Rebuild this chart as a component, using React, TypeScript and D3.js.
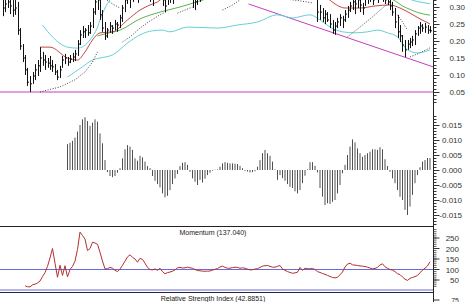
import React from 'react';
import * as d3 from 'd3';

const WIDTH = 467;
const HEIGHT = 302;
const PLOT_RIGHT = 433;

// ---- price bars (one per session) ----
const highs = [
  0.350, 0.335, 0.344, 0.329, 0.338, 0.327, 0.315, 0.238, 0.191, 0.159,
  0.121, 0.097, 0.109, 0.132, 0.144, 0.182, 0.168, 0.159, 0.150, 0.156,
  0.144, 0.132, 0.115, 0.127, 0.156, 0.162, 0.153, 0.159, 0.165, 0.174,
  0.203, 0.232, 0.244, 0.238, 0.247, 0.256, 0.297, 0.344, 0.350, 0.321,
  0.291, 0.256, 0.238, 0.256, 0.247, 0.262, 0.256, 0.277, 0.306, 0.335,
  0.365, 0.356, 0.374, 0.380, 0.368, 0.385, 0.394, 0.380, 0.391, 0.374,
  0.368, 0.385, 0.394, 0.380, 0.362, 0.350, 0.344, 0.356, 0.350, 0.394,
  0.405, 0.410, 0.402, 0.398, 0.395, 0.385, 0.365, 0.356, 0.362, 0.374,
  0.385, 0.390, 0.395, 0.400, 0.410, 0.405, 0.398, 0.390, 0.395, 0.400,
  0.410, 0.420, 0.425, 0.430, 0.420, 0.415, 0.410, 0.400, 0.395, 0.400,
  0.405, 0.410, 0.420, 0.430, 0.440, 0.445, 0.440, 0.435, 0.430, 0.420,
  0.410, 0.405, 0.400, 0.395, 0.390, 0.385, 0.380, 0.385, 0.390, 0.395,
  0.400, 0.405, 0.410, 0.405, 0.400, 0.390, 0.344, 0.306, 0.297, 0.291,
  0.285, 0.279, 0.262, 0.256, 0.268, 0.279, 0.274, 0.291, 0.303, 0.315,
  0.327, 0.321, 0.332, 0.321, 0.312, 0.332, 0.338, 0.344, 0.338, 0.350,
  0.344, 0.356, 0.350, 0.344, 0.338, 0.327, 0.315, 0.297, 0.277, 0.247,
  0.218, 0.203, 0.203, 0.209, 0.215, 0.232, 0.244, 0.256, 0.250, 0.253,
  0.247, 0.244,
];
const lows = [
  0.273, 0.285, 0.297, 0.279, 0.271, 0.277, 0.218, 0.174, 0.138, 0.100,
  0.068, 0.050, 0.074, 0.085, 0.097, 0.109, 0.127, 0.115, 0.121, 0.115,
  0.109, 0.100, 0.085, 0.091, 0.121, 0.132, 0.127, 0.135, 0.138, 0.141,
  0.156, 0.188, 0.209, 0.209, 0.215, 0.221, 0.238, 0.277, 0.291, 0.262,
  0.227, 0.203, 0.209, 0.224, 0.221, 0.232, 0.227, 0.238, 0.256, 0.285,
  0.309, 0.297, 0.315, 0.327, 0.312, 0.332, 0.335, 0.327, 0.338, 0.315,
  0.303, 0.329, 0.338, 0.327, 0.303, 0.285, 0.306, 0.312, 0.309, 0.335,
  0.345, 0.352, 0.348, 0.342, 0.338, 0.330, 0.297, 0.291, 0.306, 0.315,
  0.335, 0.340, 0.350, 0.355, 0.360, 0.355, 0.345, 0.340, 0.345, 0.350,
  0.355, 0.365, 0.370, 0.375, 0.370, 0.360, 0.355, 0.350, 0.345, 0.350,
  0.355, 0.360, 0.365, 0.375, 0.385, 0.390, 0.385, 0.380, 0.370, 0.365,
  0.355, 0.350, 0.345, 0.340, 0.335, 0.330, 0.330, 0.335, 0.340, 0.345,
  0.350, 0.355, 0.360, 0.355, 0.350, 0.335, 0.256, 0.262, 0.256, 0.250,
  0.256, 0.238, 0.221, 0.218, 0.238, 0.244, 0.238, 0.256, 0.268, 0.285,
  0.291, 0.279, 0.297, 0.285, 0.277, 0.303, 0.309, 0.315, 0.306, 0.321,
  0.312, 0.324, 0.315, 0.309, 0.306, 0.291, 0.274, 0.238, 0.209, 0.197,
  0.168, 0.153, 0.174, 0.179, 0.185, 0.188, 0.215, 0.221, 0.227, 0.224,
  0.221, 0.224,
];
const closes = [
  0.297, 0.309, 0.315, 0.303, 0.291, 0.297, 0.232, 0.185, 0.150, 0.115,
  0.079, 0.074, 0.097, 0.115, 0.127, 0.150, 0.144, 0.138, 0.135, 0.127,
  0.124, 0.109, 0.094, 0.115, 0.144, 0.150, 0.138, 0.147, 0.153, 0.162,
  0.191, 0.218, 0.227, 0.232, 0.224, 0.244, 0.285, 0.315, 0.321, 0.277,
  0.238, 0.215, 0.232, 0.244, 0.238, 0.250, 0.247, 0.268, 0.297, 0.321,
  0.338, 0.332, 0.350, 0.356, 0.344, 0.365, 0.374, 0.350, 0.368, 0.344,
  0.332, 0.362, 0.374, 0.350, 0.321, 0.303, 0.327, 0.332, 0.338, 0.380,
  0.390, 0.395, 0.385, 0.380, 0.372, 0.350, 0.332, 0.315, 0.338, 0.350,
  0.360, 0.375, 0.385, 0.390, 0.395, 0.385, 0.370, 0.365, 0.380, 0.390,
  0.400, 0.410, 0.415, 0.420, 0.405, 0.400, 0.390, 0.380, 0.375, 0.385,
  0.390, 0.400, 0.410, 0.420, 0.430, 0.435, 0.425, 0.420, 0.410, 0.400,
  0.390, 0.385, 0.380, 0.375, 0.370, 0.365, 0.360, 0.370, 0.375, 0.380,
  0.385, 0.390, 0.395, 0.385, 0.380, 0.360, 0.285, 0.285, 0.268, 0.279,
  0.262, 0.250, 0.232, 0.244, 0.256, 0.268, 0.262, 0.279, 0.291, 0.303,
  0.315, 0.309, 0.321, 0.306, 0.297, 0.324, 0.327, 0.332, 0.321, 0.332,
  0.327, 0.338, 0.332, 0.321, 0.315, 0.303, 0.285, 0.256, 0.227, 0.215,
  0.188, 0.174, 0.191, 0.197, 0.203, 0.221, 0.238, 0.244, 0.238, 0.241,
  0.232, 0.230,
];

// ---- overlays: [bar index, price] ----
const cyanUpper: [number, number][] = [
  [16, 0.247], [20, 0.212], [26, 0.182], [30, 0.179], [35, 0.203], [38, 0.241],
  [39, 0.262], [41, 0.297], [43, 0.321], [45, 0.338], [60, 0.39], [90, 0.43],
  [120, 0.46], [140, 0.44], [152, 0.39], [158, 0.345], [161, 0.329], [165, 0.318],
  [169, 0.312], [171, 0.31],
];
const cyanLower: [number, number][] = [
  [26, 0.094], [32, 0.124], [36, 0.144], [39, 0.15], [44, 0.159], [50, 0.194],
  [55, 0.218], [60, 0.23], [64, 0.232], [67, 0.227], [74, 0.241], [86, 0.238],
  [94, 0.247], [102, 0.256], [110, 0.277], [116, 0.268], [123, 0.277], [127, 0.262],
  [131, 0.241], [136, 0.227], [141, 0.224], [146, 0.227], [150, 0.232], [154, 0.224],
  [158, 0.212], [162, 0.174], [166, 0.165], [171, 0.174],
];
const redMA: [number, number][] = [
  [15, 0.182], [19, 0.182], [26, 0.15], [30, 0.144], [33, 0.168], [36, 0.203],
  [39, 0.224], [44, 0.227], [50, 0.262], [55, 0.291], [59, 0.306], [62, 0.315],
  [65, 0.332], [75, 0.36], [95, 0.38], [115, 0.39], [125, 0.36], [130, 0.326],
  [133, 0.309], [137, 0.297], [143, 0.297], [149, 0.303], [155, 0.306], [159, 0.297],
  [163, 0.282], [167, 0.265], [171, 0.25],
];
const greenMA: [number, number][] = [
  [38, 0.215], [41, 0.221], [47, 0.232], [55, 0.265], [63, 0.285], [71, 0.3],
  [79, 0.318], [85, 0.332], [100, 0.36], [120, 0.37], [145, 0.35], [152, 0.335],
  [157, 0.318], [160, 0.303], [163, 0.293], [166, 0.284], [171, 0.276],
];
const sarSegments: [number, number][][] = [
  [[15, 0.05], [23, 0.065], [29, 0.086], [33, 0.109], [36, 0.138], [38, 0.168]],
  [[41, 0.324], [44, 0.309], [47, 0.297]],
  [[48, 0.197], [51, 0.212], [55, 0.238], [59, 0.259], [63, 0.277], [66, 0.288]],
  [[70, 0.282], [73, 0.291], [76, 0.3]],
  [[88, 0.291], [92, 0.306], [95, 0.321]],
  [[113, 0.324], [119, 0.318], [124, 0.312]],
  [[138, 0.212], [143, 0.241], [148, 0.271], [152, 0.297], [155, 0.315]],
  [[158, 0.277], [160, 0.256], [162, 0.232]],
  [[163, 0.153], [167, 0.165], [171, 0.18]],
];
const supportLevel = 0.05;
const downTrend: [number, number][] = [[98.4, 0.309], [172.4, 0.1235]];

// ---- MACD histogram, first value at bar 26 ----
const MACD_FIRST = 26;
const macdHist = [
  0.0086, 0.0091, 0.0097, 0.0108, 0.0128, 0.015, 0.0169, 0.0176, 0.0163, 0.0147,
  0.0158, 0.0169, 0.0161, 0.0122, 0.0089, 0.0033, -0.0007, -0.002, -0.0024, -0.002,
  -0.0009, 0.0006, 0.0039, 0.0069, 0.0083, 0.0078, 0.0067, 0.0039, 0.0031, 0.0047,
  0.0042, 0.0028, 0.0013, 0.0006, -0.002, -0.0036, -0.0047, -0.0058, -0.0078, -0.0091,
  -0.0086, -0.0067, -0.0047, -0.0028, -0.0013, 0.0013, 0.0024, 0.0026, 0.0017, -0.0006,
  -0.0028, -0.0039, -0.005, -0.0033, -0.0042, -0.0029, -0.0017, -0.0009, -0.0002, 0.0001,
  0.0002, 0.0011, 0.0022, 0.0026, 0.0024, 0.0022, 0.0022, 0.0021, 0.002, 0.0014,
  0.0006, -0.0003, -0.0005, -0.0008, -0.0007, -0.0004, 0.0011, 0.0033, 0.0056, 0.0067,
  0.0056, 0.0047, 0.0028, 0.0002, -0.0033, -0.0017, -0.0027, -0.0036, -0.0047, -0.0056,
  -0.006, -0.0071, -0.0078, -0.0067, -0.0044, -0.0019, 0.0002, 0.0026, 0.0026, 0.0014,
  -0.0008, -0.006, -0.0089, -0.0117, -0.0111, -0.0113, -0.0106, -0.01, -0.0078, -0.005,
  -0.0011, 0.0017, 0.005, 0.0078, 0.0102, 0.0092, 0.0072, 0.0056, 0.0044, 0.005,
  0.0056, 0.0061, 0.0069, 0.0069, 0.0067, 0.0076, 0.0069, 0.0036, 0.0013, -0.0006,
  -0.0028, -0.0044, -0.0067, -0.0089, -0.01, -0.0133, -0.015, -0.0122, -0.0083, -0.0044,
  -0.0017, 0.0009, 0.0028, 0.0033, 0.004, 0.004,
];

// ---- Momentum, first value at bar 9 ----
const MOM_FIRST = 9;
const momentum = [
  22, 18, 17, 27, 30, 36, 45, 66, 85, 115,
  155, 200, 130, 63, 120, 72, 118, 65, 100, 115,
  140, 195, 278, 262, 245, 190, 200, 230, 226, 220,
  182, 140, 103, 104, 110, 106, 96, 90, 102, 120,
  140, 160, 170, 158, 150, 135, 153, 148, 130, 110,
  100, 98, 103, 96, 106, 90, 80, 85, 88, 92,
  98, 108, 110, 107, 108, 111, 108, 106, 100, 95,
  94, 92, 92, 92, 93, 97, 101, 105, 112, 116,
  110, 106, 106, 109, 111, 110, 106, 108, 106, 102,
  98, 99, 102, 104, 110, 116, 118, 119, 115, 111,
  111, 115, 119, 103, 96, 90, 86, 82, 84, 87,
  110, 96, 106, 104, 103, 105, 100, 90, 86, 81,
  77, 72, 67, 62, 60, 63, 75, 88, 112, 126,
  130, 122, 121, 119, 117, 116, 114, 111, 107, 103,
  105, 110, 122, 127, 113, 106, 100, 97, 90, 80,
  76, 64, 54, 48, 58, 62, 66, 72, 84, 97,
  106, 117, 137,
];
const momentumBase = 100;

// ---- axis ticks ----
const priceTicks = [0.05, 0.1, 0.15, 0.2, 0.25, 0.3];
const priceTickLabels = ['0.05', '0.10', '0.15', '0.20', '0.25', '0.30'];
const macdTicks = [-0.015, -0.01, -0.005, 0, 0.005, 0.01, 0.015];
const macdTickLabels = ['-0.015', '-0.010', '-0.005', '0.000', '0.005', '0.010', '0.015'];
const momTicks = [50, 100, 150, 200, 250];
const momTickLabels = ['50', '100', '150', '200', '250'];
const rsiTicks = [75];
const rsiTickLabels = ['75'];

const momentumTitle = 'Momentum (137.040)';
const rsiTitle = 'Relative Strength Index (42.8851)';

export default function App() {
  const x = d3.scaleLinear().domain([0, highs.length - 1]).range([2.5, 430]);
  const yP = d3.scaleLinear().domain([0.05, 0.3]).range([92, 7]);
  const yM = d3.scaleLinear().domain([-0.015, 0.015]).range([215, 125]);
  const yMo = d3.scaleLinear().domain([50, 250]).range([280, 238]);
  const yR = d3.scaleLinear().domain([25, 75]).range([342, 300]);

  const smooth = d3
    .line<[number, number]>()
    .x((d) => x(d[0]))
    .y((d) => yP(d[1]))
    .curve(d3.curveMonotoneX);
  const straight = d3
    .line<[number, number]>()
    .x((d) => x(d[0]))
    .y((d) => yP(d[1]));
  const momLine = d3
    .line<number>()
    .x((_, k) => x(MOM_FIRST + k))
    .y((d) => yMo(d));

  const priceMinor = d3.range(2, 33).map((k) => k / 100);
  const macdMinor = d3.range(-18, 19).map((k) => k / 1000);
  const momMinor = d3.range(2, 30).map((k) => k * 10);

  const font = "'Liberation Sans', Arial, sans-serif";
  const axisX = PLOT_RIGHT + 0.5;

  return (
    <svg
      width={WIDTH}
      height={HEIGHT}
      style={{ position: 'absolute', left: 0, top: 0, background: '#fff' }}
      fontFamily={font}
    >
      <defs>
        <clipPath id="cp-price">
          <rect x={0} y={0} width={PLOT_RIGHT} height={101} />
        </clipPath>
        <clipPath id="cp-macd">
          <rect x={0} y={101} width={PLOT_RIGHT} height={125} />
        </clipPath>
        <clipPath id="cp-mom">
          <rect x={0} y={227} width={PLOT_RIGHT} height={63} />
        </clipPath>
      </defs>
      <rect x={0} y={0} width={WIDTH} height={HEIGHT} fill="#fff" />

      {/* price panel */}
      <g clipPath="url(#cp-price)">
        <line x1={0} x2={PLOT_RIGHT} y1={yP(supportLevel)} y2={yP(supportLevel)} stroke="#c040c0" strokeWidth={1} />
        <path d={straight(downTrend) || ''} fill="none" stroke="#c040c0" strokeWidth={1} />
        <path d={smooth(cyanUpper) || ''} fill="none" stroke="#66cfd6" strokeWidth={1} />
        <path d={smooth(cyanLower) || ''} fill="none" stroke="#66cfd6" strokeWidth={1} />
        <path d={smooth(greenMA) || ''} fill="none" stroke="#5cb450" strokeWidth={1} />
        <path d={smooth(redMA) || ''} fill="none" stroke="#c24848" strokeWidth={1} />
        {sarSegments.map((seg, k) => (
          <path key={k} d={straight(seg) || ''} fill="none" stroke="#444" strokeWidth={1} strokeDasharray="1 1.6" />
        ))}
        {highs.map((h, i) => {
          const xi = Math.round(x(i)) + 0.5;
          return (
            <g key={i} stroke="#111" strokeWidth={1}>
              <line x1={xi} x2={xi} y1={yP(h)} y2={yP(lows[i])} />
              <line x1={xi} x2={xi + 1.5} y1={yP(closes[i])} y2={yP(closes[i])} />
            </g>
          );
        })}
      </g>

      {/* MACD histogram */}
      <g clipPath="url(#cp-macd)">
        {macdHist.map((v, k) => {
          const xi = x(MACD_FIRST + k);
          return <line key={k} x1={xi} x2={xi} y1={yM(0)} y2={yM(v)} stroke="#505050" strokeWidth={1} />;
        })}
      </g>

      {/* momentum panel */}
      <line x1={0} x2={PLOT_RIGHT} y1={226.5} y2={226.5} stroke="#222" strokeWidth={1} />
      <g clipPath="url(#cp-mom)">
        <line x1={0} x2={PLOT_RIGHT} y1={yMo(momentumBase)} y2={yMo(momentumBase)} stroke="#6a6adc" strokeWidth={1} />
        <path d={momLine(momentum) || ''} fill="none" stroke="#b3302f" strokeWidth={1} />
      </g>
      <text x={213} y={235} fontSize={7} fill="#222" textAnchor="middle">
        {momentumTitle}
      </text>
      <line x1={0} x2={PLOT_RIGHT} y1={290} y2={290} stroke="#6a6adc" strokeWidth={1} />
      <line x1={0} x2={PLOT_RIGHT} y1={292.5} y2={292.5} stroke="#222244" strokeWidth={1} />
      <text x={213} y={300.5} fontSize={7} fill="#222" textAnchor="middle">
        {rsiTitle}
      </text>

      {/* right axis */}
      <line x1={axisX} x2={axisX} y1={0} y2={HEIGHT} stroke="#222" strokeWidth={1} />
      {priceMinor.map((v, k) => (
        <line key={'pm' + k} x1={axisX} x2={axisX + 3} y1={Math.round(yP(v)) + 0.5} y2={Math.round(yP(v)) + 0.5} stroke="#333" />
      ))}
      {priceTicks.map((v, k) => (
        <g key={'pt' + k}>
          <line x1={axisX} x2={axisX + 6} y1={Math.round(yP(v)) + 0.5} y2={Math.round(yP(v)) + 0.5} stroke="#333" />
          <text x={465} y={yP(v) + 3} fontSize={8} fill="#333" textAnchor="end">
            {priceTickLabels[k]}
          </text>
        </g>
      ))}
      {macdMinor.map((v, k) => (
        <line key={'mm' + k} x1={axisX} x2={axisX + 3} y1={Math.round(yM(v)) + 0.5} y2={Math.round(yM(v)) + 0.5} stroke="#333" />
      ))}
      {macdTicks.map((v, k) => (
        <g key={'mt' + k}>
          <line x1={axisX} x2={axisX + 6} y1={Math.round(yM(v)) + 0.5} y2={Math.round(yM(v)) + 0.5} stroke="#333" />
          <text x={462} y={yM(v) + 3} fontSize={8} fill="#333" textAnchor="end">
            {macdTickLabels[k]}
          </text>
        </g>
      ))}
      {momMinor.map((v, k) => (
        <line key={'om' + k} x1={axisX} x2={axisX + 3} y1={yMo(v)} y2={yMo(v)} stroke="#333" strokeWidth={0.8} />
      ))}
      {momTicks.map((v, k) => (
        <g key={'ot' + k}>
          <line x1={axisX} x2={axisX + 6} y1={yMo(v)} y2={yMo(v)} stroke="#333" />
          <text x={459} y={yMo(v) + 3} fontSize={8} fill="#333" textAnchor="end">
            {momTickLabels[k]}
          </text>
        </g>
      ))}
      {rsiTicks.map((v, k) => (
        <g key={'rt' + k}>
          <line x1={axisX} x2={axisX + 6} y1={yR(v)} y2={yR(v)} stroke="#333" />
          <text x={459} y={yR(v) + 2.5} fontSize={7} fill="#333" textAnchor="end">
            {rsiTickLabels[k]}
          </text>
        </g>
      ))}
    </svg>
  );
}
